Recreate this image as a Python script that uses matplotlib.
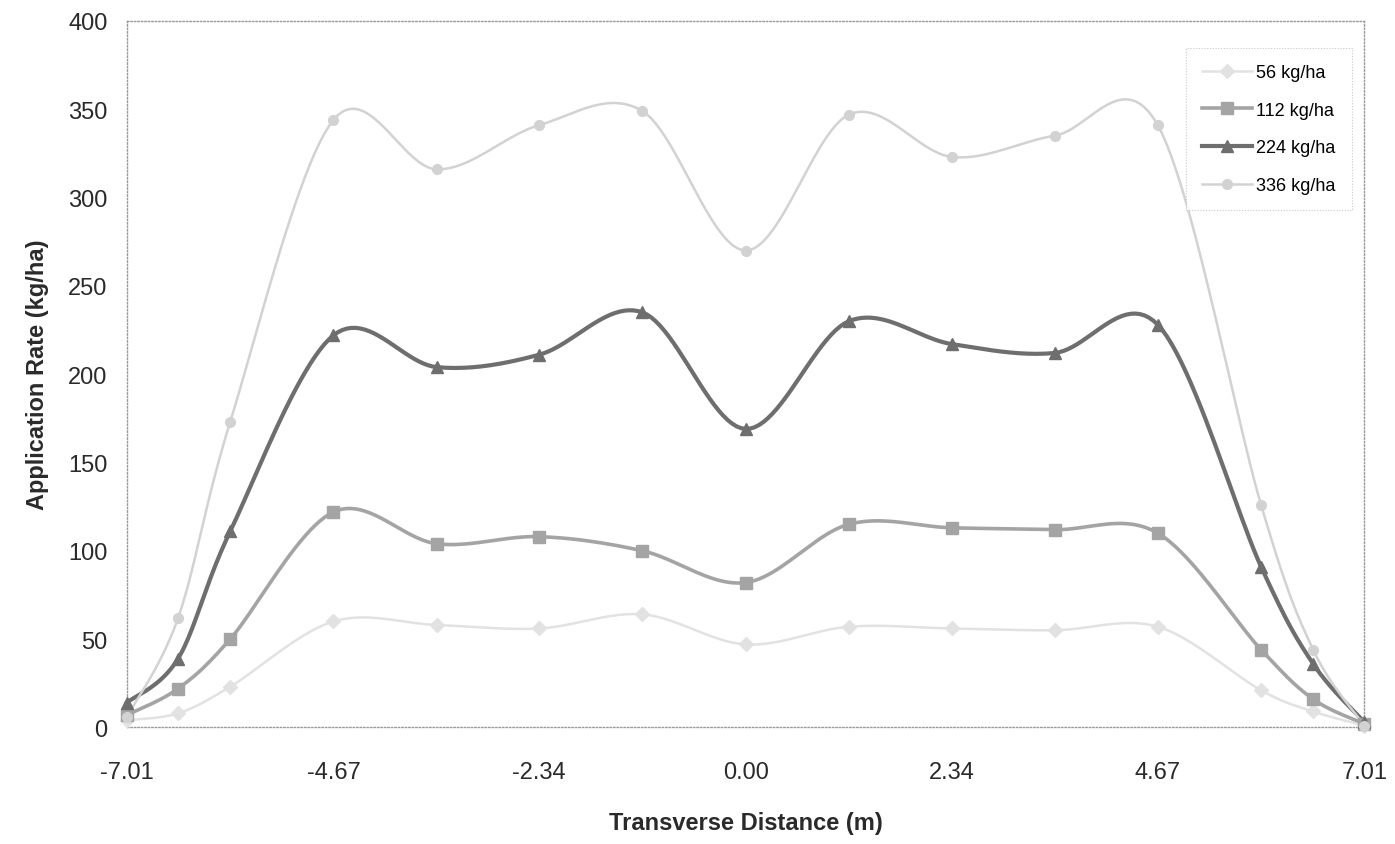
import numpy as np
import matplotlib
matplotlib.use("Agg")
import matplotlib.pyplot as plt

plt.rcParams['font.family'] = ['Liberation Sans', 'DejaVu Sans']

# transverse positions (m) and application rates (kg/ha)
distance = [-7.01, -6.43, -5.84, -4.67, -3.50, -2.34, -1.17, 0.00,
            1.17, 2.34, 3.50, 4.67, 5.84, 6.43, 7.01]
rate_56 = [4, 8, 23, 60, 58, 56, 64, 47, 57, 56, 55, 57, 21, 9, 1]
rate_112 = [7, 22, 50, 122, 104, 108, 100, 82, 115, 113, 112, 110, 44, 16, 2]
rate_224 = [14, 39, 111, 222, 204, 211, 235, 169, 230, 217, 212, 228, 91, 36, 3]
rate_336 = [6, 62, 173, 344, 316, 341, 349, 270, 347, 323, 335, 341, 126, 44, 1]

labels = ["56 kg/ha", "112 kg/ha", "224 kg/ha", "336 kg/ha"]
xticks = [-7.01, -4.67, -2.34, 0.00, 2.34, 4.67, 7.01]
yticks = [0, 50, 100, 150, 200, 250, 300, 350, 400]


def smooth(x, y, n=24):
    # excel-like smoothed line: cubic bezier through points (catmull-rom)
    p = np.column_stack([x, y]).astype(float)
    ext = np.vstack([p[0], p, p[-1]])
    out = []
    t = np.linspace(0, 1, n)[:, None]
    for i in range(1, len(ext) - 2):
        p0, p1, p2, p3 = ext[i - 1], ext[i], ext[i + 1], ext[i + 2]
        c1 = p1 + (p2 - p0) / 6.0
        c2 = p2 - (p3 - p1) / 6.0
        seg = ((1 - t) ** 3 * p1 + 3 * (1 - t) ** 2 * t * c1
               + 3 * (1 - t) * t ** 2 * c2 + t ** 3 * p2)
        out.append(seg if i == 1 else seg[1:])
    out = np.vstack(out)
    return out[:, 0], out[:, 1]


fig = plt.figure(figsize=(13.95, 8.45), dpi=100)
ax = fig.add_axes([0.091, 0.138, 0.887, 0.836])

styles = [
    (rate_56, '#e2e2e2', 'D', 7, 1.8),
    (rate_112, '#a4a4a4', 's', 9, 2.6),
    (rate_224, '#6e6e6e', '^', 9, 3.0),
    (rate_336, '#d2d2d2', 'o', 7, 1.8),
]

for (vals, col, mk, ms, lw), lab in zip(styles, labels):
    sx, sy = smooth(distance, vals)
    ax.plot(sx, sy, color=col, lw=lw, clip_on=False, zorder=2)
    ax.plot(distance, vals, ls='none', marker=mk, ms=ms, color=col,
            markeredgecolor=col, clip_on=False, zorder=3)
    # legend proxy
    ax.plot([], [], color=col, lw=lw, marker=mk, ms=ms, label=lab)

ax.set_xlim(-7.01, 7.01)
ax.set_ylim(0, 400)
ax.set_xticks(xticks)
ax.set_xticklabels([f"{v:.2f}" for v in xticks])
ax.set_yticks(yticks)
ax.tick_params(length=0, labelsize=17, colors='#2a2a2a')
ax.tick_params(axis='x', pad=24)
ax.tick_params(axis='y', pad=14)

for s in ax.spines.values():
    s.set_linestyle((0, (1, 1.5)))
    s.set_color('#9a9a9a')
    s.set_linewidth(1.0)

ax.set_xlabel("Transverse Distance (m)", fontsize=17, fontweight='bold',
              color='#2a2a2a', labelpad=20)
ax.set_ylabel("Application Rate (kg/ha)", fontsize=17, fontweight='bold',
              color='#2a2a2a', labelpad=14)

leg = ax.legend(loc='upper right', bbox_to_anchor=(0.997, 0.975), fontsize=13,
                frameon=True, fancybox=False, handlelength=2.8,
                labelspacing=1.15, borderpad=0.9, handletextpad=0.2)
leg.get_frame().set_edgecolor('#bbbbbb')
leg.get_frame().set_linestyle((0, (1, 1.5)))
leg.get_frame().set_linewidth(0.8)

fig.savefig("out.png", dpi=100, facecolor='white')
